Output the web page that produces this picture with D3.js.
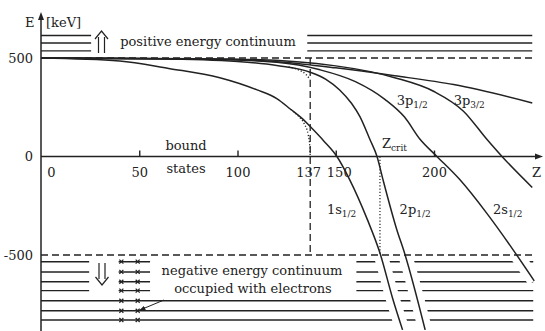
<!DOCTYPE html>
<html><head><meta charset="utf-8">
<script src="https://cdn.jsdelivr.net/npm/d3@7"></script>
<style>
body{margin:0;background:#fff}
svg{display:block}
text{font-family:"DejaVu Serif",serif;fill:#222}
</style></head><body>
<svg id="chart" width="545" height="331"></svg>
<script>
// Energy levels E (keV) of a heavy atom versus nuclear charge Z
const state1s   = [[0,500],[40,485],[65,447],[91,400],[110,338],[120,294],[127,240],[133,192],[137,152],[144,78],[150.6,0],[157,-116],[166,-318],[172.5,-490],[179,-722],[184,-880]];
const state2p12 = [[0,500],[60,496],[100,482],[120,462],[137,428],[145,392],[152,338],[158,270],[162.3,202],[167.4,86],[171,0],[174,-116],[181,-369],[185,-490],[195.5,-880]];
const state2s   = [[0,500],[80,495],[120,478],[142,440],[160,380],[175,290],[185,200],[193,86],[201.5,0],[213,-116],[227,-290],[240,-470],[251,-631]];
const state3p12 = [[0,500],[100,494],[150,460],[180,400],[200,330],[215,230],[227,86],[234.6,0],[250,-157]];
const state3p32 = [[0,500],[80,496],[122,480],[150,450],[180,410],[210,365],[250,272]];
// point-nucleus solutions ending at Z = 137
const point1s   = [[127,240],[131,205],[134,165],[136,110],[136.8,50],[137,0]];
const point2p   = [[126,455],[131,440],[135,415],[137,390]];

const curveLabels = [
  {main:"3p", sub:"1/2", z:181, e:260},
  {main:"3p", sub:"3/2", z:210, e:260},
  {main:"1s", sub:"1/2", z:145.5, e:-290},
  {main:"2p", sub:"1/2", z:182.5, e:-290},
  {main:"2s", sub:"1/2", z:230, e:-290}
];

const yTicks = [500, 0, -500];
const xTicks = [0, 50, 100, 137, 150, 200];
const zCrit = 172.5;
const zPoint = 137;
const restMass = 500;

// continuum levels (keV)
const posLevels = [614, 576, 536];
const negLevels = [-534, -586, -636, -681, -732, -783, -830];

const svg = d3.select("#chart");
const x = d3.scaleLinear().domain([0, 200]).range([41, 434]);
const y = d3.scaleLinear().domain([-500, 500]).range([255, 58]);
const ink = "#222";

const line = d3.line().x(d => x(d[0])).y(d => y(d[1])).curve(d3.curveMonotoneX);

svg.append("defs").append("clipPath").attr("id", "below")
  .append("rect").attr("x", 0).attr("y", y(-520)).attr("width", 545).attr("height", 331);

// positive energy continuum
const gPos = svg.append("g").attr("stroke", ink).attr("stroke-width", 1.4);
posLevels.forEach(e => {
  gPos.append("line").attr("x1", x(0)).attr("x2", x(25.5)).attr("y1", y(e)).attr("y2", y(e));
  gPos.append("line").attr("x1", x(135.5)).attr("x2", x(250)).attr("y1", y(e)).attr("y2", y(e));
});

// negative energy continuum
const gNeg = svg.append("g").attr("stroke", ink).attr("stroke-width", 1.4);
negLevels.forEach((e, i) => {
  if (i < 4) {
    gNeg.append("line").attr("x1", x(0)).attr("x2", x(24.5)).attr("y1", y(e)).attr("y2", y(e));
    gNeg.append("line").attr("x1", x(39.5)).attr("x2", x(55.5)).attr("y1", y(e)).attr("y2", y(e));
    gNeg.append("line").attr("x1", x(160.5)).attr("x2", x(250.5)).attr("y1", y(e)).attr("y2", y(e));
  } else {
    gNeg.append("line").attr("x1", x(0)).attr("x2", x(250.5)).attr("y1", y(e)).attr("y2", y(e));
  }
});

// rest-mass boundaries
svg.append("g").attr("stroke", ink).attr("stroke-width", 1.3).attr("stroke-dasharray", "7,4")
  .selectAll("line").data([restMass, -restMass]).join("line")
  .attr("x1", x(0)).attr("x2", x(250.5)).attr("y1", d => y(d)).attr("y2", d => y(d));

// Z = 137 marker
svg.append("line").attr("stroke", ink).attr("stroke-width", 1.3).attr("stroke-dasharray", "7,4")
  .attr("x1", x(zPoint)).attr("x2", x(zPoint)).attr("y1", y(restMass)).attr("y2", y(-restMass));
// critical charge marker
svg.append("line").attr("stroke", ink).attr("stroke-width", 1.2).attr("stroke-dasharray", "1.2,2")
  .attr("x1", x(zCrit)).attr("x2", x(zCrit)).attr("y1", y(0)).attr("y2", y(-restMass));

// bound states
const states = [state1s, state2p12, state2s, state3p12, state3p32];
svg.append("g").attr("clip-path", "url(#below)")
  .selectAll("path").data(states).join("path")
  .attr("d", line).attr("fill", "none").attr("stroke", "#fff").attr("stroke-width", 14);
svg.append("g").selectAll("path").data(states).join("path")
  .attr("d", line).attr("fill", "none").attr("stroke", ink).attr("stroke-width", 1.5);
svg.append("g").selectAll("path").data([point1s, point2p]).join("path")
  .attr("d", line).attr("fill", "none").attr("stroke", ink).attr("stroke-width", 1.3)
  .attr("stroke-dasharray", "1.2,2");

// occupied states
const gX = svg.append("g").attr("stroke", ink).attr("stroke-width", 1.2);
negLevels.forEach(e => {
  [40.9, 49.2].forEach(z => {
    const cx = x(z), cy = y(e), r = 2;
    gX.append("path").attr("d", `M${cx-r},${cy-r}L${cx+r},${cy+r}M${cx-r},${cy+r}L${cx+r},${cy-r}`);
  });
});

// axes
const xAxis = svg.append("g").attr("transform", `translate(0,${y(0)})`)
  .call(d3.axisBottom(x).tickValues(xTicks).tickSize(-6).tickPadding(11).tickFormat(d => String(d)));
xAxis.select(".domain").remove();
xAxis.selectAll(".tick line").attr("stroke", ink).attr("stroke-width", 1.4)
  .filter(d => d === 0 || d === 137).remove();
xAxis.selectAll(".tick text").attr("font-size", 13).attr("fill", ink)
  .attr("font-family", "DejaVu Serif, serif")
  .attr("dx", d => d === 0 ? 10 : d === 137 ? -2 : d === 150 ? 3 : 0);

const yAxis = svg.append("g").attr("transform", `translate(${x(0)},0)`)
  .call(d3.axisLeft(y).tickValues(yTicks).tickSize(0).tickPadding(8).tickFormat(d => String(d)));
yAxis.select(".domain").remove();
yAxis.selectAll(".tick text").attr("font-size", 13).attr("fill", ink)
  .attr("font-family", "DejaVu Serif, serif");

svg.append("line").attr("stroke", ink).attr("stroke-width", 1.5)
  .attr("x1", x(0)).attr("x2", 536).attr("y1", y(0)).attr("y2", y(0));
svg.append("path").attr("fill", ink).attr("d", `M543,${y(0)}L535,${y(0)-3}L535,${y(0)+3}Z`);
svg.append("line").attr("stroke", ink).attr("stroke-width", 1.5)
  .attr("x1", x(0)).attr("x2", x(0)).attr("y1", 19).attr("y2", 331);
svg.append("path").attr("fill", ink).attr("d", `M${x(0)},12L${x(0)-3},20L${x(0)+3},20Z`);

svg.append("text").attr("x", 25).attr("y", 27).attr("font-size", 13).text("E");
svg.append("text").attr("x", 46).attr("y", 27).attr("font-size", 13).text("[keV]");
svg.append("text").attr("x", 532).attr("y", 177).attr("font-size", 13).text("Z");

// double arrows
function dblArrow(cx, top, bottom, up) {
  const g = svg.append("g").attr("fill", "none").attr("stroke", ink).attr("stroke-width", 1.2);
  const tip = up ? top : bottom, base = up ? bottom : top, s = up ? 1 : -1;
  g.append("path").attr("d",
    `M${cx-3},${base}L${cx-3},${tip+s*6}M${cx+3},${base}L${cx+3},${tip+s*6}` +
    `M${cx-6.5},${tip+s*8}L${cx},${tip}L${cx+6.5},${tip+s*8}`);
}
dblArrow(101.5, 31, 53, true);
dblArrow(102, 263, 285, false);

svg.append("text").attr("x", 208).attr("y", 46).attr("text-anchor", "middle").attr("font-size", 13)
  .text("positive energy continuum");
svg.append("text").attr("x", 252).attr("y", 275).attr("text-anchor", "middle").attr("font-size", 13)
  .text("negative energy continuum");
svg.append("text").attr("x", 253).attr("y", 293).attr("text-anchor", "middle").attr("font-size", 13)
  .text("occupied with electrons");
svg.append("text").attr("x", 186).attr("y", 150).attr("text-anchor", "middle").attr("font-size", 13).text("bound");
svg.append("text").attr("x", 186).attr("y", 173).attr("text-anchor", "middle").attr("font-size", 13).text("states");

// pointer to occupied states
svg.append("defs").append("marker").attr("id", "head").attr("viewBox", "0 0 10 10")
  .attr("refX", 9).attr("refY", 5).attr("markerWidth", 6).attr("markerHeight", 6).attr("orient", "auto")
  .append("path").attr("d", "M0,1L10,5L0,9Z").attr("fill", ink);
svg.append("line").attr("stroke", ink).attr("stroke-width", 1)
  .attr("x1", 164).attr("y1", 300).attr("x2", 140).attr("y2", 310).attr("marker-end", "url(#head)");

// Z_crit label
const zc = svg.append("text").attr("x", 382).attr("y", 148).attr("font-size", 13);
zc.append("tspan").text("Z");
zc.append("tspan").attr("font-size", 9).attr("dy", 3).text("crit");

// state labels
curveLabels.forEach(l => {
  const t = svg.append("text").attr("x", x(l.z)).attr("y", y(l.e)).attr("font-size", 13);
  t.append("tspan").text(l.main);
  t.append("tspan").attr("font-size", 9).attr("dy", 3).text(l.sub);
});
</script>
</body></html>
